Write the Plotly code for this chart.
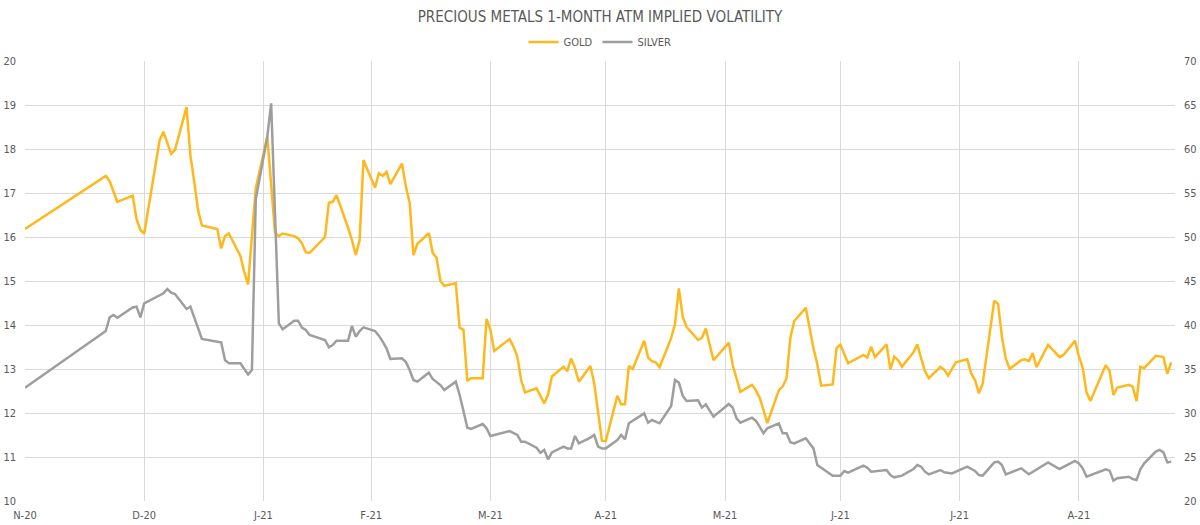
import plotly.graph_objects as go

# ---------------- data ----------------
gold_dates = [
    "2020-11-30", "2020-12-21", "2020-12-22", "2020-12-24", "2020-12-28", "2020-12-29", "2020-12-30", "2020-12-31",
    "2021-01-04", "2021-01-05", "2021-01-07", "2021-01-08", "2021-01-11", "2021-01-12", "2021-01-13", "2021-01-14",
    "2021-01-15", "2021-01-19", "2021-01-20", "2021-01-21", "2021-01-22", "2021-01-25", "2021-01-26", "2021-01-27",
    "2021-01-29",
    "2021-02-01", "2021-02-03", "2021-02-04", "2021-02-05", "2021-02-08", "2021-02-09", "2021-02-10", "2021-02-11",
    "2021-02-12", "2021-02-16", "2021-02-17", "2021-02-18", "2021-02-19", "2021-02-22", "2021-02-23", "2021-02-24",
    "2021-02-25", "2021-02-26",
    "2021-03-01", "2021-03-02", "2021-03-03", "2021-03-04", "2021-03-05", "2021-03-08", "2021-03-09", "2021-03-10",
    "2021-03-11", "2021-03-12", "2021-03-15", "2021-03-16", "2021-03-17", "2021-03-18", "2021-03-19", "2021-03-22",
    "2021-03-23", "2021-03-24", "2021-03-25", "2021-03-26", "2021-03-29", "2021-03-30", "2021-03-31",
    "2021-04-01", "2021-04-05", "2021-04-06", "2021-04-07", "2021-04-08", "2021-04-09", "2021-04-12", "2021-04-13",
    "2021-04-14", "2021-04-15", "2021-04-16", "2021-04-19", "2021-04-20", "2021-04-21", "2021-04-22", "2021-04-23",
    "2021-04-26", "2021-04-27", "2021-04-28", "2021-04-29", "2021-04-30",
    "2021-05-03", "2021-05-04", "2021-05-05", "2021-05-06", "2021-05-07", "2021-05-10", "2021-05-11", "2021-05-12",
    "2021-05-13", "2021-05-14", "2021-05-17", "2021-05-18", "2021-05-19", "2021-05-20", "2021-05-21", "2021-05-24",
    "2021-05-25", "2021-05-26", "2021-05-28",
    "2021-06-01", "2021-06-02", "2021-06-04", "2021-06-07", "2021-06-08", "2021-06-09", "2021-06-10", "2021-06-11",
    "2021-06-14", "2021-06-15", "2021-06-16", "2021-06-17", "2021-06-18", "2021-06-21", "2021-06-23", "2021-06-24",
    "2021-06-25", "2021-06-28", "2021-06-29", "2021-06-30",
    "2021-07-02", "2021-07-06", "2021-07-07", "2021-07-08", "2021-07-09", "2021-07-12", "2021-07-13", "2021-07-14",
    "2021-07-15", "2021-07-16", "2021-07-19", "2021-07-20", "2021-07-21", "2021-07-22", "2021-07-23", "2021-07-26",
    "2021-07-27", "2021-07-28", "2021-07-30",
    "2021-08-02", "2021-08-03", "2021-08-04", "2021-08-05", "2021-08-06", "2021-08-09", "2021-08-10", "2021-08-11",
    "2021-08-12", "2021-08-13", "2021-08-16", "2021-08-17", "2021-08-18", "2021-08-19", "2021-08-20", "2021-08-23",
    "2021-08-26", "2021-08-27", "2021-08-30", "2021-08-31",
    "2021-09-01", "2021-09-02", "2021-09-03", "2021-09-07", "2021-09-08", "2021-09-09", "2021-09-10", "2021-09-13",
    "2021-09-14", "2021-09-15", "2021-09-16", "2021-09-17", "2021-09-20", "2021-09-22", "2021-09-23", "2021-09-24",
]
gold_vol = [
    16.18, 17.39, 17.27, 16.80, 16.94, 16.41, 16.16, 16.08,
    18.20, 18.39, 17.89, 17.98, 18.95, 17.86, 17.26, 16.61,
    16.26, 16.18, 15.74, 16.02, 16.08, 15.57, 15.21, 14.92,
    17.11,
    18.28, 16.10, 16.02, 16.08, 16.02, 15.97, 15.86, 15.65,
    15.64, 16.00, 16.78, 16.80, 16.95, 16.21, 15.93, 15.59,
    15.93, 17.75,
    17.12, 17.45, 17.39, 17.48, 17.20, 17.67, 17.16, 16.78,
    15.59, 15.84, 16.09, 15.64, 15.53, 15.00, 14.89, 14.95,
    13.94, 13.89, 12.73, 12.79, 12.79, 14.14, 13.89,
    13.41, 13.68, 13.51, 13.28, 12.75, 12.47, 12.56, 12.37,
    12.22, 12.42, 12.83, 13.05, 12.95, 13.24, 13.02, 12.71,
    13.07, 12.67, 11.95, 11.37, 11.36,
    12.39, 12.20, 12.20, 13.07, 13.00, 13.64, 13.26, 13.18,
    13.15, 13.04, 13.70, 14.02, 14.83, 14.19, 13.96, 13.66,
    13.71, 13.92, 13.20,
    13.60, 13.09, 12.48, 12.64, 12.52, 12.35, 12.07, 11.77,
    12.52, 12.60, 12.79, 13.71, 14.09, 14.39, 13.47, 13.11,
    12.62, 12.65, 13.48, 13.55,
    13.13, 13.32, 13.26, 13.51, 13.27, 13.56, 12.99, 13.28,
    13.20, 13.05, 13.38, 13.56, 13.24, 12.95, 12.79, 13.05,
    12.98, 12.85, 13.15,
    13.22, 12.90, 12.75, 12.45, 12.67, 14.55, 14.48, 13.73,
    13.24, 13.00, 13.20, 13.22, 13.18, 13.36, 13.04, 13.55,
    13.27, 13.32, 13.64, 13.30,
    13.03, 12.47, 12.27, 13.09, 12.95, 12.41, 12.58, 12.64,
    12.60, 12.27, 13.05, 13.02, 13.30, 13.27, 12.89, 13.15,
]

silver_dates = [
    "2020-11-30", "2020-12-21", "2020-12-22", "2020-12-23", "2020-12-24", "2020-12-28", "2020-12-29", "2020-12-30",
    "2020-12-31",
    "2021-01-05", "2021-01-06", "2021-01-07", "2021-01-08", "2021-01-11", "2021-01-12", "2021-01-15", "2021-01-19",
    "2021-01-20", "2021-01-21", "2021-01-22", "2021-01-25", "2021-01-26", "2021-01-27", "2021-01-28", "2021-01-29",
    "2021-02-01", "2021-02-02", "2021-02-04", "2021-02-05", "2021-02-08", "2021-02-09", "2021-02-10", "2021-02-11",
    "2021-02-12", "2021-02-16", "2021-02-17", "2021-02-18", "2021-02-19", "2021-02-22", "2021-02-23", "2021-02-24",
    "2021-02-25", "2021-02-26",
    "2021-03-01", "2021-03-02", "2021-03-03", "2021-03-04", "2021-03-05", "2021-03-08", "2021-03-09", "2021-03-10",
    "2021-03-11", "2021-03-12", "2021-03-15", "2021-03-16", "2021-03-18", "2021-03-19", "2021-03-22", "2021-03-23",
    "2021-03-24", "2021-03-25", "2021-03-26", "2021-03-29", "2021-03-30", "2021-03-31",
    "2021-04-05", "2021-04-07", "2021-04-08", "2021-04-09", "2021-04-12", "2021-04-13", "2021-04-14", "2021-04-15",
    "2021-04-16", "2021-04-19", "2021-04-20", "2021-04-21", "2021-04-22", "2021-04-23", "2021-04-26", "2021-04-27",
    "2021-04-28", "2021-04-29", "2021-04-30",
    "2021-05-03", "2021-05-04", "2021-05-05", "2021-05-06", "2021-05-07", "2021-05-10", "2021-05-11", "2021-05-12",
    "2021-05-14", "2021-05-17", "2021-05-18", "2021-05-19", "2021-05-20", "2021-05-21", "2021-05-24", "2021-05-25",
    "2021-05-26", "2021-05-28",
    "2021-06-01", "2021-06-02", "2021-06-03", "2021-06-04", "2021-06-07", "2021-06-08", "2021-06-09", "2021-06-10",
    "2021-06-11", "2021-06-14", "2021-06-15", "2021-06-16", "2021-06-17", "2021-06-18", "2021-06-21", "2021-06-23",
    "2021-06-24", "2021-06-25", "2021-06-28", "2021-06-30",
    "2021-07-01", "2021-07-02", "2021-07-06", "2021-07-07", "2021-07-08", "2021-07-12", "2021-07-13", "2021-07-14",
    "2021-07-16", "2021-07-19", "2021-07-20", "2021-07-21", "2021-07-22", "2021-07-23", "2021-07-26", "2021-07-27",
    "2021-07-29",
    "2021-08-02", "2021-08-04", "2021-08-05", "2021-08-06", "2021-08-09", "2021-08-10", "2021-08-11", "2021-08-12",
    "2021-08-16", "2021-08-18", "2021-08-23", "2021-08-26", "2021-08-30", "2021-08-31",
    "2021-09-01", "2021-09-02", "2021-09-07", "2021-09-08", "2021-09-09", "2021-09-10", "2021-09-13", "2021-09-14",
    "2021-09-15", "2021-09-16", "2021-09-17", "2021-09-20", "2021-09-21", "2021-09-22", "2021-09-23", "2021-09-24",
]
silver_vol = [
    32.88, 39.32, 40.87, 41.14, 40.83, 42.00, 42.08, 40.87,
    42.46,
    43.60, 44.09, 43.67, 43.52, 41.82, 42.08, 38.41, 38.10,
    38.03, 36.02, 35.64, 35.64, 35.00, 34.39, 34.89, 54.30,
    61.40, 65.19, 40.19, 39.51, 40.49, 40.49, 39.70, 39.43,
    38.86, 38.30, 37.46, 37.73, 38.22, 38.22, 39.89, 38.67,
    39.32, 39.73,
    39.32, 38.79, 38.11, 37.35, 36.14, 36.21, 35.83, 34.89,
    33.75, 33.56, 34.58, 33.86, 33.18, 32.61, 33.56, 32.05,
    30.23, 28.33, 28.18, 28.75, 28.26, 27.39,
    27.95, 27.50, 26.74, 26.74, 26.06, 25.49, 25.80, 24.73,
    25.53, 26.17, 25.98, 25.98, 27.39, 26.55, 27.20, 27.50,
    26.17, 25.98, 25.98,
    26.93, 27.50, 27.01, 28.83, 29.09, 29.96, 28.90, 29.20,
    28.83, 30.80, 33.75, 33.45, 31.97, 31.36, 31.44, 30.61,
    30.98, 29.58,
    31.02, 30.61, 29.39, 28.90, 29.47, 29.13, 28.45, 27.69,
    28.26, 28.83, 27.69, 27.69, 26.67, 26.55, 27.12, 25.98,
    24.09, 23.79, 22.88, 22.88,
    23.41, 23.22, 24.02, 23.79, 23.33, 23.52, 22.95, 22.69,
    22.88, 23.64, 24.09, 23.90, 23.33, 23.03, 23.52, 23.26,
    23.14,
    23.90, 23.41, 22.95, 22.88, 24.39, 24.47, 24.09, 23.03,
    23.71, 23.03, 24.39, 23.64, 24.55, 24.28,
    23.71, 22.76, 23.60, 23.45, 22.31, 22.58, 22.76, 22.50,
    22.39, 23.60, 24.28, 25.61, 25.80, 25.53, 24.39, 24.47,
]

month_ticks = ["2020-11-30", "2020-12-31", "2021-01-31", "2021-02-28", "2021-03-31",
               "2021-04-30", "2021-05-31", "2021-06-30", "2021-07-31", "2021-08-31"]
month_labels = ["N-20", "D-20", "J-21", "F-21", "M-21", "A-21", "M-21", "J-21", "J-21", "A-21"]

assert len(gold_dates) == len(gold_vol)
assert len(silver_dates) == len(silver_vol)

# ---------------- styling ----------------
FONT = "DejaVu Sans Condensed, Liberation Sans Narrow, DejaVu Sans, sans-serif"
TXT = "#595959"
GRID = "#d9d9d9"
GOLD_C = "#FFB81C"
SILVER_C = "#9E9E9E"

fig = go.Figure()
fig.add_trace(go.Scatter(x=gold_dates, y=gold_vol, name="GOLD", mode="lines",
                         line=dict(color=GOLD_C, width=2.5), yaxis="y"))
fig.add_trace(go.Scatter(x=silver_dates, y=silver_vol, name="SILVER", mode="lines",
                         line=dict(color=SILVER_C, width=2.5), yaxis="y2"))

fig.update_layout(
    width=1200, height=525,
    margin=dict(l=25, r=25, t=61, b=24, autoexpand=False),
    paper_bgcolor="white", plot_bgcolor="white",
    font=dict(family=FONT, color=TXT, size=11),
    title=dict(text="PRECIOUS METALS 1-MONTH ATM IMPLIED VOLATILITY",
               x=0.5, xanchor="center", y=1 - 17 / 525, yanchor="middle",
               font=dict(family=FONT, size=15, color=TXT)),
    legend=dict(orientation="h", x=0.5, xanchor="center", y=1 + 19 / 440, yanchor="middle",
                font=dict(family=FONT, size=11, color=TXT), itemwidth=30,
                bgcolor="rgba(0,0,0,0)"),
    showlegend=True,
    xaxis=dict(type="date", range=["2020-11-30", "2021-09-25"], automargin=False,
               tickmode="array", tickvals=month_ticks, ticktext=month_labels,
               showgrid=True, gridcolor=GRID, gridwidth=1, zeroline=False,
               showline=False, ticks="", ticklabelstandoff=6,
               tickfont=dict(size=11, color=TXT)),
    yaxis=dict(range=[10, 20], dtick=1, tick0=10, showgrid=True, gridcolor=GRID, automargin=False,
               zeroline=False, showline=False, ticks="", ticklabelstandoff=8,
               tickfont=dict(size=11, color=TXT)),
    yaxis2=dict(range=[20, 70], dtick=5, tick0=20, overlaying="y", side="right", automargin=False,
                showgrid=False, zeroline=False, showline=False, ticks="", ticklabelstandoff=8,
                tickfont=dict(size=11, color=TXT)),
)

fig.write_html("out.html")
